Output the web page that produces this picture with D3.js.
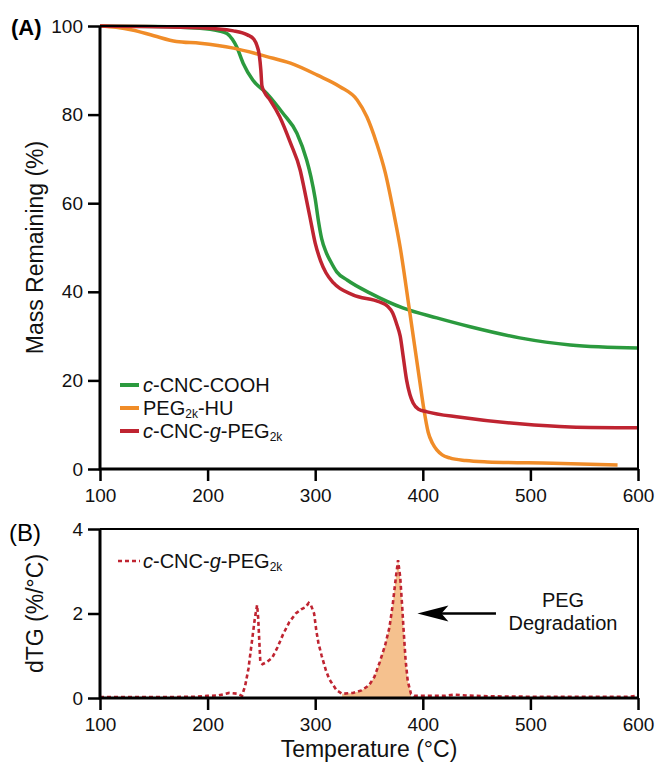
<!DOCTYPE html>
<html>
<head>
<meta charset="utf-8">
<script src="https://cdn.jsdelivr.net/npm/d3@7"></script>
<style>
  body { margin: 0; background: #fff; }
  svg { font-family: 'Liberation Sans', Arial, sans-serif; }
</style>
</head>
<body>
<div id="chart"></div>
<script>
// ---- data ----
var tempCooh = [100, 150, 193, 210, 218, 223, 227, 233, 242, 255, 270, 283, 292, 296, 300, 303, 306, 310, 314, 320, 330, 351, 382, 413, 444, 490, 537, 600];
var massCooh = [100, 99.9, 99.5, 98.9, 98.3, 97, 95.3, 91.6, 87.8, 84.8, 80.3, 75.8, 69.8, 66, 61, 56, 52, 49, 47, 44.5, 42.6, 39.7, 36.3, 34.1, 32.1, 29.6, 28, 27.3];

var tempPeg = [100, 115, 130, 150, 171, 193, 224, 255, 277, 302, 323, 339, 348, 357, 365, 373, 379, 388, 397, 401, 405, 409, 413, 418, 425, 440, 460, 521, 581];
var massPeg = [100, 99.7, 99.1, 97.8, 96.5, 96.1, 95, 93.1, 91.6, 88.9, 86.3, 83.3, 79.5, 73.6, 67, 57.8, 50, 35.2, 20.1, 13.5, 8.3, 5.8, 4.3, 3.2, 2.5, 1.9, 1.6, 1.3, 0.9];

var tempGraft = [100, 193, 224, 237, 243, 246, 248, 249.5, 250.5, 253, 258, 267, 277, 286, 290, 295, 300, 305, 310, 317, 335, 360, 367, 372, 376, 379, 382, 385, 388, 391, 396, 404, 435, 490, 537, 600];
var massGraft = [100, 99.6, 98.9, 98, 97, 95.5, 93.5, 90, 86.5, 85, 83.3, 79.5, 73.6, 67.5, 63, 57, 51, 47, 44.3, 42, 39.3, 37.7, 36.8, 35.2, 32.5, 30, 25, 20, 16.8, 14.9, 13.5, 12.9, 11.7, 10.2, 9.5, 9.3];

var tempDtg = [100, 150, 190, 200, 210, 220, 228, 232, 235, 238, 241, 244, 246, 247, 249, 251, 255, 260, 265, 270, 276, 282, 287, 291, 294, 296, 299, 301, 303, 306, 310, 313, 316, 320, 325, 335, 343, 350, 355, 360, 365, 369, 372, 375, 377, 379, 381, 382, 384, 386, 389, 392, 400, 420, 430, 440, 460, 500, 550, 590, 600];
var dtgGraft = [0.02, 0.02, 0.03, 0.05, 0.06, 0.12, 0.1, 0.05, 0.3, 0.7, 1.3, 1.9, 2.2, 1.9, 0.85, 0.8, 0.85, 0.95, 1.2, 1.5, 1.8, 2.0, 2.1, 2.15, 2.25, 2.2, 2.0, 1.6, 1.3, 1.0, 0.65, 0.45, 0.33, 0.18, 0.1, 0.12, 0.18, 0.3, 0.5, 0.85, 1.25, 1.67, 2.2, 2.86, 3.26, 2.86, 2.1, 1.67, 0.9, 0.4, 0.1, 0.05, 0.05, 0.05, 0.08, 0.06, 0.04, 0.03, 0.03, 0.03, 0.05];

var pegPeak = [325, 389];   // shaded PEG degradation region (°C)
var xTicks = [100, 200, 300, 400, 500, 600];
var massTicks = [0, 20, 40, 60, 80, 100];
var dtgTicks = [0, 2, 4];

var green = '#2b9a3e', orange = '#f08c28', red = '#bf2431', peach = '#f5c18e';

var svg = d3.select('#chart').append('svg')
    .attr('width', 657)
    .attr('height', 765);

var x = d3.scaleLinear().domain([100, 600]).range([100, 638]);
var yA = d3.scaleLinear().domain([0, 100]).range([469, 26]);
var yB = d3.scaleLinear().domain([0, 4]).range([698, 529]);

function zip(xs, ys) {
  return xs.map(function(t, i) { return [t, ys[i]]; });
}

function drawAxes(y, ticks) {
  var top = y.range()[1], bottom = y.range()[0];
  var gx = svg.append('g')
    .attr('transform', 'translate(0,' + bottom + ')')
    .call(d3.axisBottom(x).tickValues(xTicks).tickSize(12).tickPadding(8).tickFormat(d3.format('d')));
  var gy = svg.append('g')
    .attr('transform', 'translate(100,0)')
    .call(d3.axisLeft(y).tickValues(ticks).tickSize(12).tickPadding(5).tickFormat(d3.format('d')));
  [gx, gy].forEach(function(g) {
    g.select('.domain').remove();
    g.selectAll('line').attr('stroke', '#000').attr('stroke-width', 2.5);
    g.selectAll('text').attr('font-size', 19).attr('fill', '#111')
      .style('font-family', "'Liberation Sans', Arial, sans-serif");
  });
  // box: thick left/bottom, thinner top/right
  svg.append('path')
    .attr('d', 'M100,' + top + 'H638V' + bottom)
    .attr('fill', 'none').attr('stroke', '#000').attr('stroke-width', 2);
  svg.append('path')
    .attr('d', 'M100,' + top + 'V' + bottom + 'H638')
    .attr('fill', 'none').attr('stroke', '#000').attr('stroke-width', 3);
}

// ---------- panel A ----------
var lineA = d3.line()
  .x(function(d) { return x(d[0]); })
  .y(function(d) { return yA(d[1]); })
  .curve(d3.curveMonotoneX);

var seriesA = [
  { data: zip(tempCooh, massCooh), color: green },
  { data: zip(tempPeg, massPeg), color: orange },
  { data: zip(tempGraft, massGraft), color: red }
];

svg.append('g').selectAll('path')
  .data(seriesA)
  .enter().append('path')
  .attr('d', function(d) { return lineA(d.data); })
  .attr('fill', 'none')
  .attr('stroke', function(d) { return d.color; })
  .attr('stroke-width', 3.5)
  .attr('stroke-linejoin', 'round');

drawAxes(yA, massTicks);

// legend A
function legendLabel(sel, parts) {
  parts.forEach(function(p) {
    var t = sel.append('tspan').text(p.t);
    if (p.i) t.attr('font-style', 'italic');
    if (p.sub) t.attr('font-size', 12).attr('baseline-shift', '-28%');
  });
}
var legA = [
  { color: green, parts: [{ t: 'c', i: 1 }, { t: '-CNC-COOH' }] },
  { color: orange, parts: [{ t: 'PEG' }, { t: '2k', sub: 1 }, { t: '-HU' }] },
  { color: red, parts: [{ t: 'c', i: 1 }, { t: '-CNC-' }, { t: 'g', i: 1 }, { t: '-PEG' }, { t: '2k', sub: 1 }] }
];
legA.forEach(function(d, i) {
  var yy = 385 + i * 23;
  svg.append('line')
    .attr('x1', 120).attr('x2', 139).attr('y1', yy).attr('y2', yy)
    .attr('stroke', d.color).attr('stroke-width', 4);
  legendLabel(svg.append('text').attr('x', 143).attr('y', yy + 7).attr('font-size', 20).attr('fill', '#111'), d.parts);
});

// ---------- panel B ----------
var dtgData = zip(tempDtg, dtgGraft);

var area = d3.area()
  .x(function(d) { return x(d[0]); })
  .y0(yB(0))
  .y1(function(d) { return yB(d[1]); });

svg.append('path')
  .attr('d', area(dtgData.filter(function(d) { return d[0] >= pegPeak[0] && d[0] <= pegPeak[1]; })))
  .attr('fill', peach);

var lineB = d3.line()
  .x(function(d) { return x(d[0]); })
  .y(function(d) { return yB(d[1]); });

svg.append('path')
  .attr('d', lineB(dtgData))
  .attr('fill', 'none')
  .attr('stroke', red)
  .attr('stroke-width', 2.6)
  .attr('stroke-dasharray', '4,3');

drawAxes(yB, dtgTicks);

svg.append('line')
  .attr('x1', 118).attr('x2', 140).attr('y1', 561).attr('y2', 561)
  .attr('stroke', red).attr('stroke-width', 2.6).attr('stroke-dasharray', '4,3');
legendLabel(svg.append('text').attr('x', 143).attr('y', 568).attr('font-size', 20).attr('fill', '#111'), legA[2].parts);

// PEG degradation arrow
var arrowY = yB(2), tipX = x(395), tailX = x(468);
svg.append('line')
  .attr('x1', tipX + 20).attr('x2', tailX).attr('y1', arrowY).attr('y2', arrowY)
  .attr('stroke', '#000').attr('stroke-width', 2.5);
svg.append('path')
  .attr('d', 'M' + tipX + ',' + arrowY + 'L' + (tipX + 31) + ',' + (arrowY - 8) +
             'L' + (tipX + 24) + ',' + arrowY + 'L' + (tipX + 31) + ',' + (arrowY + 8) + 'Z')
  .attr('fill', '#000');
svg.append('text').attr('x', 563).attr('y', 607).attr('text-anchor', 'middle')
  .attr('font-size', 20).attr('fill', '#111').text('PEG');
svg.append('text').attr('x', 563).attr('y', 630).attr('text-anchor', 'middle')
  .attr('font-size', 20).attr('fill', '#111').text('Degradation');

// ---------- titles ----------
svg.append('text').attr('x', 11).attr('y', 35).attr('font-size', 22).attr('font-weight', 'bold').text('(A)');
svg.append('text').attr('x', 9).attr('y', 541).attr('font-size', 24).text('(B)');

svg.append('text')
  .attr('transform', 'translate(43,' + ((26 + 469) / 2) + ')rotate(-90)')
  .attr('text-anchor', 'middle').attr('font-size', 23).attr('fill', '#111')
  .text('Mass Remaining (%)');
svg.append('text')
  .attr('transform', 'translate(43,' + ((529 + 698) / 2) + ')rotate(-90)')
  .attr('text-anchor', 'middle').attr('font-size', 23).attr('fill', '#111')
  .text('dTG (%/°C)');
svg.append('text')
  .attr('x', (100 + 638) / 2).attr('y', 757)
  .attr('text-anchor', 'middle').attr('font-size', 23).attr('fill', '#111')
  .text('Temperature (°C)');
</script>
</body>
</html>
